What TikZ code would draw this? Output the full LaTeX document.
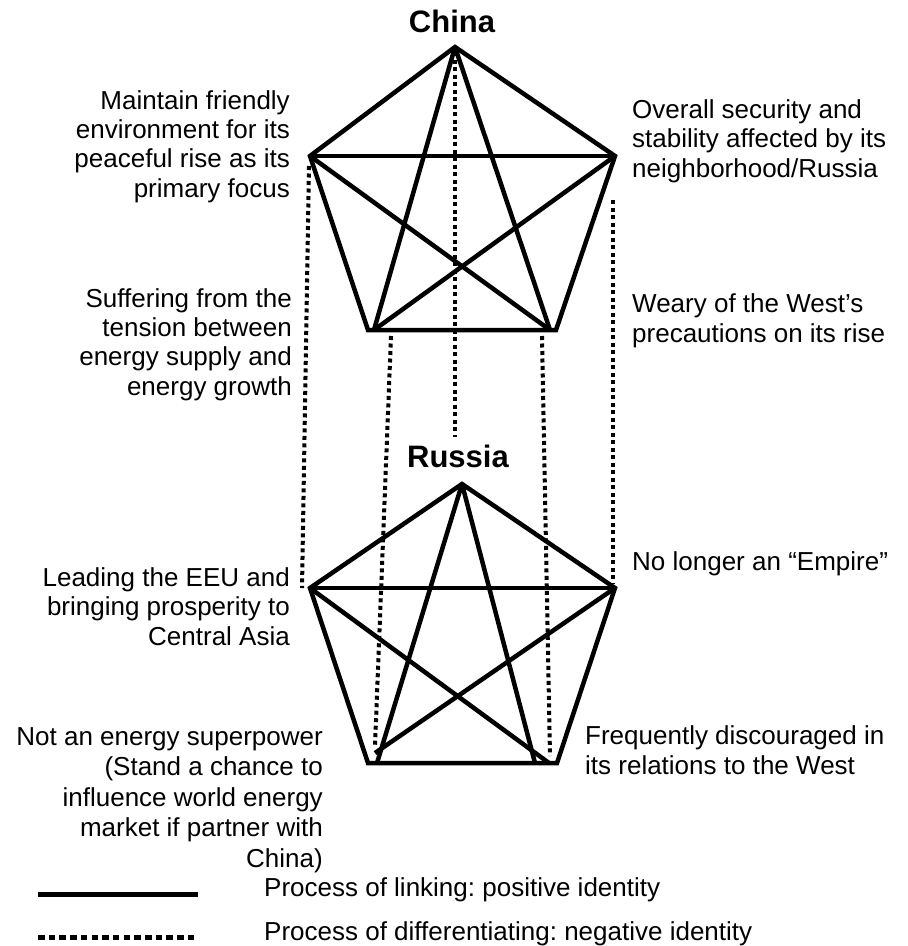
\documentclass[tikz,border=0pt]{standalone}
\usepackage{fontspec}
\setmainfont{Liberation Sans}
\frenchspacing

\begin{document}
\begin{tikzpicture}[x=1pt,y=-1pt,
  link/.style={line width=4.5pt},
  diff/.style={line width=4pt,dash pattern=on 4pt off 3.5pt},
  txt/.style={inner sep=0pt,font=\fontsize{26}{29.3}\selectfont},
  lefttxt/.style={txt,anchor=base east,align=right},
  righttxt/.style={txt,anchor=base west,align=left},
  title/.style={inner sep=0pt,anchor=base,font=\fontsize{31}{35}\selectfont\bfseries}]
  \useasboundingbox (0,0) rectangle (908,946);
  % China pentagon
  \coordinate (CT) at (455,47);
  \coordinate (CUL) at (310,156);
  \coordinate (CUR) at (615,156);
  \coordinate (CBL) at (368,330);
  \coordinate (CBR) at (556,330);
  \coordinate (CBLi) at (374,330);
  \coordinate (CBRi) at (550,330);
  % Russia pentagon
  \coordinate (RT) at (462,484);
  \coordinate (RUL) at (310,588);
  \coordinate (RUR) at (615,588);
  \coordinate (RBL) at (368,763);
  \coordinate (RBR) at (557,763);
  \coordinate (RBLi) at (377,763);
  \coordinate (RBRi) at (535,763);
  \coordinate (RBLd) at (375,753);
  \coordinate (RBRd) at (549,763);
  % China: K5
  \draw[link] (CT) -- (CUR) -- (CBR) -- (CBL) -- (CUL) -- cycle;
  \draw[link] (CUL) -- (CUR);
  \draw[link] (CT) -- (CBLi);
  \draw[link] (CT) -- (CBRi);
  \draw[link] (CUL) -- (CBRi);
  \draw[link] (CUR) -- (CBLi);
  % Russia: K5
  \draw[link] (RT) -- (RUR) -- (RBR) -- (RBL) -- (RUL) -- cycle;
  \draw[link] (RUL) -- (RUR);
  \draw[link] (RT) -- (RBLi);
  \draw[link] (RT) -- (RBRi);
  \draw[link] (RUL) -- (RBRd);
  \draw[link] (RUR) -- (RBLd);
  % differentiating lines
  \coordinate (d1a) at (455,52);   \coordinate (d1b) at (455,437);
  \coordinate (d2a) at (309,166);  \coordinate (d2b) at (302,588);
  \coordinate (d3a) at (613,200);  \coordinate (d3b) at (613,584);
  \coordinate (d4a) at (391,336);  \coordinate (d4b) at (375,746);
  \coordinate (d5a) at (542,336);  \coordinate (d5b) at (550,756);
  \draw[diff] (d1a) -- (d1b);
  \draw[diff] (d2a) -- (d2b);
  \draw[diff] (d3a) -- (d3b);
  \draw[diff] (d4a) -- (d4b);
  \draw[diff] (d5a) -- (d5b);
  % labels (anchored at the baseline of the last line)
  \node[title] (chinalbl) at (452,32) {China};
  \node[title] (russialbl) at (458,467) {Russia};
  \node[lefttxt] (maintain) at (290,197) {Maintain friendly\\environment for its\\peaceful rise as its\\primary focus};
  \node[lefttxt] (suffering) at (292,395) {Suffering from the\\tension between\\energy supply and\\energy growth};
  \node[righttxt] (overall) at (632,177) {Overall security and\\stability affected by its\\neighborhood/Russia};
  \node[righttxt] (weary) at (632,342) {Weary of the West’s\\precautions on its rise};
  \node[lefttxt] (leading) at (290,645) {Leading the EEU and\\bringing prosperity to\\Central Asia};
  \node[righttxt] (empire) at (632,570) {No longer an “Empire”};
  \node[lefttxt,font=\fontsize{26}{30.5}\selectfont] (energy) at (323,867) {Not an energy superpower\\(Stand a chance to\\influence world energy\\market if partner with\\China)};
  \node[righttxt] (westrel) at (585,774) {Frequently discouraged in\\its relations to the West};
  % legend
  \coordinate (l1a) at (38,894);  \coordinate (l1b) at (198,894);
  \coordinate (l2a) at (38,937);  \coordinate (l2b) at (198,937);
  \draw[line width=5pt] (l1a) -- (l1b);
  \draw[line width=5pt,dash pattern=on 6.5pt off 4.2pt] (l2a) -- (l2b);
  \node[righttxt] (poslbl) at (264,896) {Process of linking: positive identity};
  \node[righttxt] (neglbl) at (264,940) {Process of differentiating: negative identity};
\end{tikzpicture}
\end{document}
